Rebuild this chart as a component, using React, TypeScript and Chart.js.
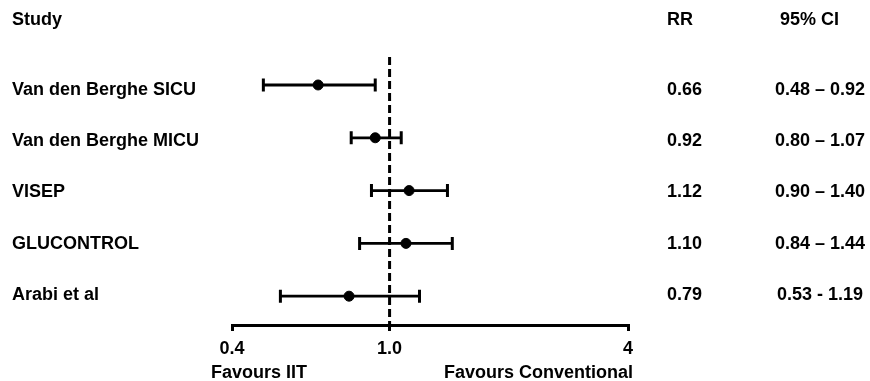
import React, { useEffect, useRef } from "react";
import { Chart, registerables } from "chart.js";

Chart.register(...registerables);

const studies = [
  "Van den Berghe SICU",
  "Van den Berghe MICU",
  "VISEP",
  "GLUCONTROL",
  "Arabi et al",
];
const rr = [0.66, 0.92, 1.12, 1.1, 0.79];
const ciLow = [0.48, 0.8, 0.9, 0.84, 0.53];
const ciHigh = [0.92, 1.07, 1.4, 1.44, 1.19];
const rrLabels = ["0.66", "0.92", "1.12", "1.10", "0.79"];
const ciLabels = ["0.48 – 0.92", "0.80 – 1.07", "0.90 – 1.40", "0.84 – 1.44", "0.53 - 1.19"];
const tickValues = [0.4, 1, 4];
const tickLabels = ["0.4", "1.0", "4"];
const headers = { study: "Study", rr: "RR", ci: "95% CI" };
const favourLeft = "Favours IIT";
const favourRight = "Favours Conventional";

const FONT = 'bold 18px "Liberation Sans", Arial, sans-serif';

export default function App() {
  const ref = useRef<HTMLCanvasElement | null>(null);

  useEffect(() => {
    const canvas = ref.current;
    if (!canvas) return;

    const forestPlugin = {
      id: "forest",
      beforeDatasetsDraw(chart: any) {
        const { ctx, chartArea, scales } = chart;
        const x = scales.x;
        const y = scales.y;
        ctx.save();
        const x1 = x.getPixelForValue(1);
        ctx.strokeStyle = "#000";
        ctx.lineWidth = 3;
        ctx.setLineDash([8, 4]);
        ctx.beginPath();
        ctx.moveTo(x1, chartArea.top);
        ctx.lineTo(x1, chartArea.bottom);
        ctx.stroke();
        ctx.setLineDash([]);
        for (let i = 0; i < rr.length; i++) {
          const py = y.getPixelForValue(i + 1);
          const xl = x.getPixelForValue(ciLow[i]);
          const xh = x.getPixelForValue(ciHigh[i]);
          ctx.lineWidth = 2.8;
          ctx.beginPath();
          ctx.moveTo(xl, py);
          ctx.lineTo(xh, py);
          ctx.stroke();
          ctx.lineWidth = 3;
          ctx.beginPath();
          ctx.moveTo(xl, py - 6.5);
          ctx.lineTo(xl, py + 6.5);
          ctx.moveTo(xh, py - 6.5);
          ctx.lineTo(xh, py + 6.5);
          ctx.stroke();
        }
        ctx.restore();
      },
      afterDraw(chart: any) {
        const { ctx } = chart;
        ctx.save();
        ctx.fillStyle = "#000";
        ctx.font = FONT;
        ctx.textBaseline = "middle";
        ctx.textAlign = "left";
        ctx.fillText(headers.study, 12, 20);
        ctx.fillText(headers.rr, 667, 20);
        ctx.fillText(headers.ci, 780, 20);
        for (let i = 0; i < studies.length; i++) {
          const py = 90 + 51.25 * i;
          ctx.textAlign = "left";
          ctx.fillText(studies[i], 12, py);
          ctx.fillText(rrLabels[i], 667, py);
          ctx.textAlign = "center";
          ctx.fillText(ciLabels[i], 820, py);
        }
        ctx.textAlign = "left";
        ctx.fillText(favourLeft, 211, 373);
        ctx.textAlign = "right";
        ctx.fillText(favourRight, 633, 373);
        ctx.restore();
      },
    };

    const chart = new Chart(canvas, {
      type: "scatter",
      data: {
        datasets: [
          {
            data: rr.map((v, i) => ({ x: v, y: i + 1 })),
            backgroundColor: "#000",
            borderColor: "#000",
            pointRadius: 5,
            pointHoverRadius: 5,
          },
        ],
      },
      options: {
        responsive: false,
        animation: false,
        events: [],
        layout: { padding: { left: 232, right: 242, top: 57, bottom: 0 } },
        plugins: { legend: { display: false }, tooltip: { enabled: false } },
        scales: {
          x: {
            type: "logarithmic",
            min: 0.4,
            max: 4,
            afterBuildTicks: (scale: any) => {
              scale.ticks = tickValues.map((v) => ({ value: v }));
            },
            afterFit: (scale: any) => {
              scale.height = 56;
            },
            border: { display: true, color: "#000", width: 3 },
            grid: {
              display: true,
              drawOnChartArea: false,
              drawTicks: true,
              tickLength: 6,
              color: "#000",
              lineWidth: 3,
            },
            ticks: {
              color: "#000",
              padding: 7,
              autoSkip: false,
              maxRotation: 0,
              font: { family: '"Liberation Sans", Arial, sans-serif', size: 18, weight: "bold" },
              callback: (value: any) => {
                const idx = tickValues.findIndex((t) => Math.abs(t - Number(value)) < 1e-9);
                return idx >= 0 ? tickLabels[idx] : "";
              },
            },
          },
          y: {
            type: "linear",
            display: false,
            reverse: true,
            min: 0.47,
            max: 5.546,
          },
        },
      },
      plugins: [forestPlugin],
    });

    return () => chart.destroy();
  }, []);

  return (
    <div style={{ position: "absolute", left: 0, top: 0, width: 870, height: 381, background: "#fff" }}>
      <canvas ref={ref} width={870} height={381} style={{ display: "block" }} />
    </div>
  );
}
